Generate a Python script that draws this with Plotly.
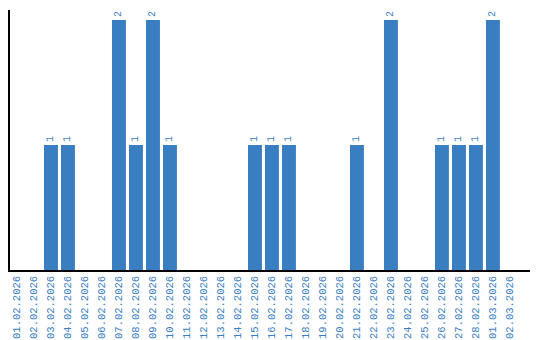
import plotly.graph_objects as go

dates = ["01.02.2026","02.02.2026","03.02.2026","04.02.2026","05.02.2026","06.02.2026",
         "07.02.2026","08.02.2026","09.02.2026","10.02.2026","11.02.2026","12.02.2026",
         "13.02.2026","14.02.2026","15.02.2026","16.02.2026","17.02.2026","18.02.2026",
         "19.02.2026","20.02.2026","21.02.2026","22.02.2026","23.02.2026","24.02.2026",
         "25.02.2026","26.02.2026","27.02.2026","28.02.2026","01.03.2026","02.03.2026"]
counts = [0,0,1,1,0,0,2,1,2,1,0,0,0,0,1,1,1,0,0,0,1,0,2,0,0,1,1,1,2,0]

blue = "#3a7ec2"
labels = [str(c) if c > 0 else "" for c in counts]

fig = go.Figure(go.Bar(
    x=dates, y=counts, marker_color=blue, marker_line_width=0,
    text=labels, textposition="outside", textangle=-90,
    textfont=dict(family="Liberation Mono", size=10, color=blue),
    cliponaxis=False,
))
fig.update_layout(
    width=540, height=340, margin=dict(l=10, r=10, t=10, b=70, autoexpand=False),
    paper_bgcolor="white", plot_bgcolor="white", bargap=0.18,
    showlegend=False,
)
fig.update_xaxes(type="category", range=[-0.41, 30.18], tickangle=-90,
                 tickfont=dict(family="Liberation Mono", size=10.5, color=blue),
                 showline=True, linecolor="black", linewidth=1.5, showgrid=False,
                 ticks="", automargin=False)
fig.update_yaxes(range=[0, 2.08], showline=True, linecolor="black", linewidth=1.5,
                 showgrid=False, showticklabels=False, ticks="", zeroline=False,
                 automargin=False)
fig.write_html("out.html")
